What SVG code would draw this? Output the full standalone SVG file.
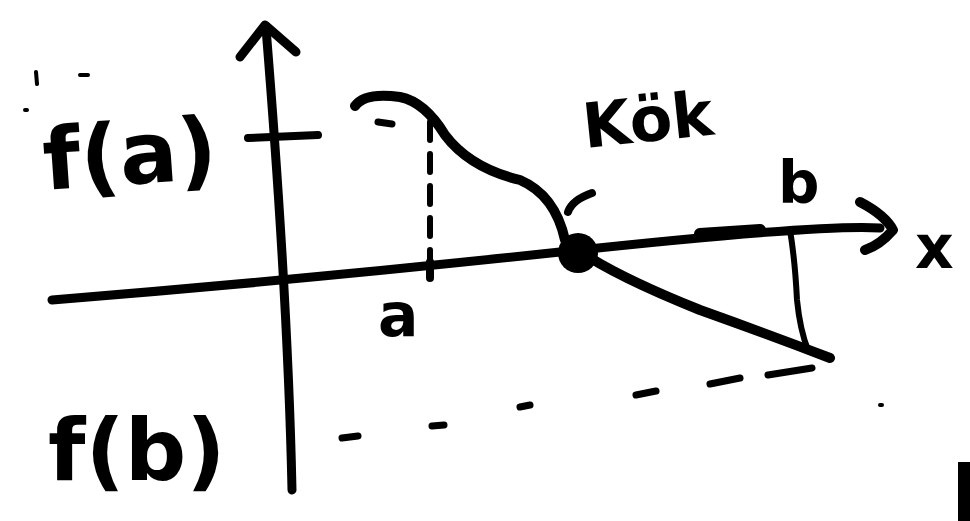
<svg xmlns="http://www.w3.org/2000/svg" width="970" height="521" viewBox="0 0 970 521">
<style>
.s{fill:none;stroke:#000;stroke-linecap:round;stroke-linejoin:round}
.t{font-family:"DejaVu Sans",sans-serif;font-weight:bold;fill:#000}
</style>
<rect width="970" height="521" fill="#fff"/>
<g id="axes">
<path class="s" stroke-width="9" d="M292 490 Q288 300 266 28"/>
<path class="s" stroke-width="9" d="M240 57 L265 25 L296 52"/>
<path class="s" stroke-width="9" d="M52 300 Q300 280 560 252 T880 228"/>
<path class="s" stroke-width="10" d="M860 202 Q885 215 893 230 Q880 245 865 250"/>
<path class="s" stroke-width="8" d="M248 138 L318 135"/>
<path class="s" stroke-width="12" d="M700 234 L760 230"/>
</g>
<g id="curve">
<path class="s" stroke-width="10" d="M355 106 Q365 92 400 97 Q425 102 445 135 Q470 168 520 180 Q555 195 565 240 Q600 270 700 310 Q770 335 830 358"/>
<circle cx="578" cy="253" r="20" fill="#000"/>
<path class="s" stroke-width="8" d="M568 212 Q572 200 592 193"/>
<path class="s" stroke-width="7" d="M378 122 L392 124"/>
</g>
<g id="guides">
<path class="s" stroke-width="6" stroke-dasharray="18 14" d="M430 122 L430 272"/>
<path class="s" stroke-width="8" d="M430 262 L430 278"/>
<path class="s" stroke-width="6" d="M790 230 Q795 260 797 300 Q800 330 808 350"/>
<path class="s" stroke-width="7" d="M342 438 L358 436 M432 426 L444 425 M520 407 L530 405 M636 395 L656 391 M710 384 L740 378 M768 375 L812 368"/>
</g>
<g id="labels">
<text class="t" x="45" y="190" font-size="86" transform="rotate(-4 45 190)">f(a)</text>
<text class="t" x="48" y="480" font-size="86">f(b)</text>
<text class="t" x="378" y="336" font-size="60">a</text>
<text class="t" x="778" y="203" font-size="58">b</text>
<text class="t" x="585" y="148" font-size="62" transform="rotate(-6 585 148)">Kök</text>
<text class="t" x="915" y="268" font-size="60">x</text>
</g>
<g id="marks">
<path class="s" stroke-width="4" d="M36 72 L37 84 M80 75 L88 75 M25 110 L27 110 M880 405 L882 405"/>
<rect x="958" y="462" width="12" height="59" fill="#000"/>
</g>
</svg>
